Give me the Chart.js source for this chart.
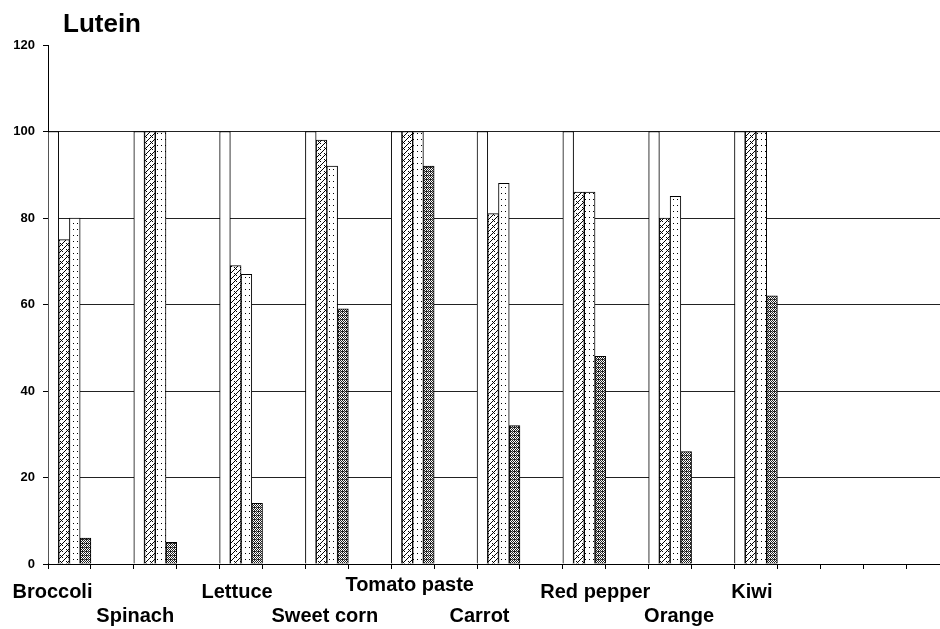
<!DOCTYPE html>
<html>
<head>
<meta charset="utf-8">
<script src="https://cdn.jsdelivr.net/npm/chart.js@4/dist/chart.umd.min.js"></script>
<style>
  html, body { margin: 0; padding: 0; background: #fff; overflow: hidden; }
  #chart { display: block; }
</style>
</head>
<body>
<!-- the plot runs a little past the right edge of the window, as in the cropped original -->
<canvas id="chart" width="949" height="629"></canvas>
<script>
// Lutein retention per vegetable (%)
const vegetables = ['Broccoli', 'Spinach', 'Lettuce', 'Sweet corn', 'Tomato paste', 'Carrot', 'Red pepper', 'Orange', 'Kiwi'];
const fresh = [100, 100, 100, 100, 100, 100, 100, 100, 100];
const hatched = [75, 100, 69, 98, 100, 81, 86, 80, 100];
const dotted = [80, 100, 67, 92, 100, 88, 86, 85, 100];
const dark = [6, 5, 14, 59, 92, 32, 48, 26, 62];
const yTicks = [0, 20, 40, 60, 80, 100, 120];

const SLOTS = 21; // every vegetable takes one slot, followed by an empty one

// label placement (two staggered rows, like the original)
const labelShift = [-17, -20, -4, -2, -3, -19, 11, 9, -4];
const labelRow = [0, 1, 0, 1, 0, 1, 0, 1, 0];

const ctx = document.getElementById('chart').getContext('2d');

function spread(values) {
    const out = new Array(SLOTS).fill(null);
    values.forEach((v, i) => { out[i * 2] = v; });
    return out;
}

const labels = new Array(SLOTS).fill('');
vegetables.forEach((v, i) => { labels[i * 2] = v; });

function makePattern(w, h, draw) {
    const c = document.createElement('canvas');
    c.width = w;
    c.height = h;
    const g = c.getContext('2d');
    g.fillStyle = '#fff';
    g.fillRect(0, 0, w, h);
    draw(g);
    return ctx.createPattern(c, 'repeat');
}

// zig-zag hatch
const zigzag = makePattern(6, 6, g => {
    g.strokeStyle = '#000';
    g.lineWidth = 1;
    g.beginPath();
    g.moveTo(0, 6); g.lineTo(6, 0);
    g.moveTo(0, 3); g.lineTo(3, 6);
    g.stroke();
});

const dots = makePattern(4, 6, g => {
    g.fillStyle = '#000';
    g.fillRect(1, 1, 1, 1);
});

const mesh = makePattern(4, 4, g => {
    g.fillStyle = '#222';
    g.fillRect(0, 0, 4, 4);
    g.fillStyle = '#fff';
    g.fillRect(1, 0, 1, 1);
    g.fillRect(3, 0, 1, 1);
    g.fillRect(0, 1, 1, 1);
    g.fillRect(2, 1, 1, 1);
    g.fillRect(1, 2, 1, 1);
    g.fillRect(3, 2, 1, 1);
    g.fillStyle = '#999';
    g.fillRect(0, 3, 1, 1);
});

const labelPlugin = {
    id: 'vegLabels',
    afterDraw(chart) {
        const c = chart.ctx;
        const x = chart.scales.x;
        c.save();
        c.fillStyle = '#000';
        c.textAlign = 'center';
        c.textBaseline = 'middle';
        c.font = 'bold 20px "Liberation Sans", Arial, sans-serif';
        vegetables.forEach((name, i) => {
            const px = x.getPixelForValue(i * 2) + labelShift[i];
            let py = labelRow[i] === 0 ? 592 : 616;
            if (name === 'Tomato paste') py = 585;
            c.fillText(name, px, py);
        });
        c.font = 'bold 26px "Liberation Sans", Arial, sans-serif';
        c.textAlign = 'left';
        c.textBaseline = 'alphabetic';
        c.fillText('Lutein', 63, 32);
        c.restore();
    }
};

function barSet(data, fill) {
    return {
        data: spread(data),
        backgroundColor: fill,
        borderColor: '#000',
        borderWidth: 1,
        categoryPercentage: 1,
        barPercentage: 1
    };
}

new Chart(ctx, {
    type: 'bar',
    data: {
        labels: labels,
        datasets: [
            barSet(fresh, '#fff'),
            barSet(hatched, zigzag),
            barSet(dotted, dots),
            barSet(dark, mesh)
        ]
    },
    options: {
        responsive: false,
        animation: false,
        layout: { padding: { top: 45, right: 0, left: 0, bottom: 0 } },
        plugins: {
            legend: { display: false },
            tooltip: { enabled: false }
        },
        scales: {
            x: {
                offset: true,
                border: { color: '#000', width: 1 },
                grid: { drawOnChartArea: false, drawTicks: true, tickLength: 5, tickColor: '#000' },
                ticks: { display: false },
                afterFit: s => { s.height = 65; }
            },
            y: {
                min: 0,
                max: 120,
                afterBuildTicks: s => { s.ticks = yTicks.map(v => ({ value: v })); },
                border: { color: '#000', width: 1 },
                grid: {
                    color: c => (c.tick && c.tick.value === 120) ? 'rgba(0,0,0,0)' : '#222',
                    lineWidth: 1,
                    tickLength: 5,
                    tickColor: '#000'
                },
                ticks: {
                    color: '#000',
                    padding: 8,
                    font: { family: '"Liberation Sans", Arial, sans-serif', size: 13, weight: 'bold' }
                },
                afterFit: s => { s.width = 48; }
            }
        }
    },
    plugins: [labelPlugin]
});
</script>
</body>
</html>
